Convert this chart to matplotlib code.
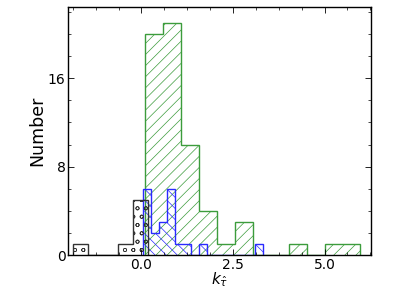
import numpy as np
import matplotlib
matplotlib.use("Agg")
import matplotlib.pyplot as plt

# Histogram data
black_edges = np.linspace(-1.88, 0.186, 6)
black_counts = [1, 0, 0, 1, 5]

green_edges = np.linspace(0.10, 5.98, 13)
green_counts = [20, 21, 10, 4, 1, 3, 0, 0, 1, 0, 1, 1]

blue_edges = np.linspace(0.05, 3.31, 16)
blue_counts = [6, 2, 3, 6, 1, 1, 0, 1, 0, 0, 0, 0, 0, 0, 1]

yticks = [0, 8, 16]
xticks = [0.0, 2.5, 5.0]
xticklabels = ["0.0", "2.5", "5.0"]

plt.rcParams['hatch.linewidth'] = 0.5

fig = plt.figure(figsize=(3.99, 2.91), dpi=100)
ax = fig.add_axes([0.171, 0.123, 0.759, 0.852])

ax.stairs(green_counts, green_edges, fill=True, facecolor='none',
          edgecolor='#3c9c3c', hatch='///', linewidth=1.0)
ax.stairs(blue_counts, blue_edges, fill=True, facecolor='none',
          edgecolor='#2a2aff', hatch='\\\\\\', linewidth=1.0)
ax.stairs(black_counts, black_edges, fill=True, facecolor='none',
          edgecolor='#333333', hatch='oo', linewidth=1.0)

ax.set_xlim(-2.0, 6.27)
ax.set_ylim(0, 22.4)
ax.set_xticks(xticks)
ax.set_xticklabels(xticklabels)
ax.set_yticks(yticks)
ax.set_xticks(np.arange(-1.875, 6.3, 0.625), minor=True)
ax.set_yticks(np.arange(0, 22.4, 2), minor=True)
ax.tick_params(which='both', direction='in', top=True, right=True, labelsize=10, pad=2)
ax.tick_params(which='major', length=4, width=0.6)
ax.tick_params(which='minor', length=2, width=0.5)
for s in ax.spines.values():
    s.set_linewidth(1.0)

ax.set_ylabel('Number', fontsize=12.5, labelpad=1)
ax.set_xlabel(r'$k_{\hat{\tau}}$', fontsize=11, labelpad=-1)

fig.savefig('out.png', dpi=100)
